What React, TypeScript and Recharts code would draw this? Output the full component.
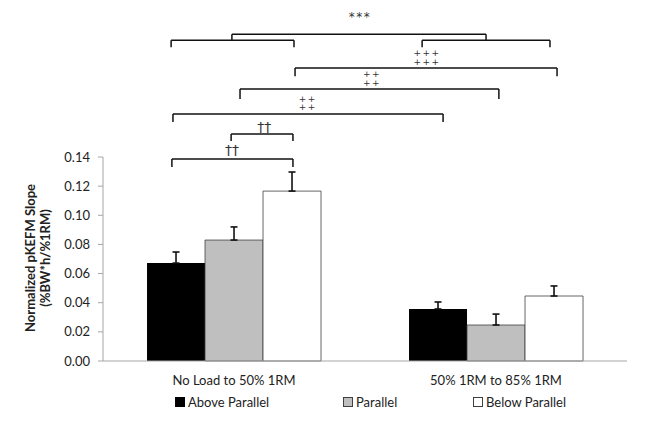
import {
  BarChart,
  Bar,
  XAxis,
  YAxis,
  ErrorBar,
  ReferenceLine,
  ReferenceDot,
  Legend,
} from "recharts";

const categories = ["No Load to 50% 1RM", "50% 1RM to 85% 1RM"];
const aboveParallel = [0.0672, 0.0357];
const parallel = [0.083, 0.0247];
const belowParallel = [0.1166, 0.0446];
const aboveErr = [0.0076, 0.0048];
const parallelErr = [0.009, 0.0075];
const belowErr = [0.0131, 0.0069];
const yTicks = [0, 0.02, 0.04, 0.06, 0.08, 0.1, 0.12, 0.14];
// category boundaries, as a fraction of the plot width
const boundaryTicks = [0, 0.5, 1];

// significance brackets: x as a fraction of the plot width, y in slope units
const brackets = [
  { x1: 0.13, x2: 0.3645, y: 0.2202, drop: 0.2154 },
  { x1: 0.609, x2: 0.853, y: 0.2202, drop: 0.2154 },
  { x1: 0.246, x2: 0.731, y: 0.2243, drop: 0.2202 },
  { x1: 0.3665, x2: 0.8665, y: 0.201, drop: 0.1955 },
  { x1: 0.2615, x2: 0.7555, y: 0.1866, drop: 0.1798 },
  { x1: 0.1335, x2: 0.649, y: 0.1695, drop: 0.164 },
  { x1: 0.2445, x2: 0.3625, y: 0.1558, drop: 0.151 },
  { x1: 0.1315, x2: 0.3625, y: 0.1386, drop: 0.1331 },
];

const marks = [
  { x: 0.4905, y: 0.236, text: "***", size: 12 },
  { x: 0.6185, y: 0.2116, text: "+++", size: 9 },
  { x: 0.6185, y: 0.2053, text: "+++", size: 9 },
  { x: 0.5135, y: 0.1972, text: "++", size: 9 },
  { x: 0.5135, y: 0.1909, text: "++", size: 9 },
  { x: 0.391, y: 0.1801, text: "++", size: 9 },
  { x: 0.391, y: 0.1745, text: "++", size: 9 },
  { x: 0.3075, y: 0.1606, text: "††", size: 14 },
  { x: 0.246, y: 0.1448, text: "††", size: 14 },
];

// outer chart-area frame, in the same units as the brackets
const frameLeft = -0.187;
const frameRight = 1.0305;
const frameBottom = -0.0494;
const frameTop = 0.2443;
const frameSides = [
  [frameLeft, frameTop, frameRight, frameTop],
  [frameLeft, frameBottom, frameRight, frameBottom],
  [frameLeft, frameBottom, frameLeft, frameTop],
  [frameRight, frameBottom, frameRight, frameTop],
];

const series = [
  { key: "above", name: "Above Parallel", fill: "#000000", stroke: "#000000" },
  { key: "parallel", name: "Parallel", fill: "#bfbfbf", stroke: "#404040" },
  { key: "below", name: "Below Parallel", fill: "#ffffff", stroke: "#404040" },
];

const legendLeft = [175, 343, 473];

const FONT = "Lato, 'Open Sans', sans-serif";

const data = categories.map((name, i) => ({
  name,
  above: aboveParallel[i],
  parallel: parallel[i],
  below: belowParallel[i],
  aboveErr: [0, aboveErr[i]],
  parallelErr: [0, parallelErr[i]],
  belowErr: [0, belowErr[i]],
}));

function LegendRow() {
  return (
    <div style={{ position: "relative", height: 18, fontFamily: FONT, fontSize: 13, color: "#222" }}>
      {series.map((s, i) => (
        <div
          key={s.key}
          style={{ position: "absolute", left: legendLeft[i], top: 0, display: "flex", alignItems: "center" }}
        >
          <span
            style={{
              display: "inline-block",
              width: 8,
              height: 8,
              background: s.fill,
              border: `1px solid ${s.stroke}`,
              marginRight: 3,
            }}
          />
          <span>{s.name}</span>
        </div>
      ))}
    </div>
  );
}

function AxisTitle() {
  return (
    <g fontFamily={FONT} fontSize={13} fontWeight="bold" fill="#222">
      <text x={30} y={258} transform="rotate(-90, 30, 258)" textAnchor="middle" dominantBaseline="central">
        Normalized pKEFM Slope
      </text>
      <text x={45} y={258} transform="rotate(-90, 45, 258)" textAnchor="middle" dominantBaseline="central">
        (%BW*h/%1RM)
      </text>
    </g>
  );
}

export default function App() {
  return (
    <div style={{ margin: -8, width: 649, height: 439, background: "#fff" }}>
      <BarChart
        width={649}
        height={439}
        data={data}
        margin={{ top: 157, right: 22, bottom: 48, left: 43 }}
        barCategoryGap="16.8%"
        barGap={0}
      >
        <XAxis
          xAxisId="pos"
          type="number"
          domain={[0, 1]}
          allowDataOverflow
          ticks={boundaryTicks}
          tickFormatter={() => ""}
          axisLine={false}
          tickLine={{ stroke: "#a6a6a6" }}
          tickSize={4}
          height={0}
        />
        <XAxis
          dataKey="name"
          axisLine={{ stroke: "#a6a6a6" }}
          tickLine={false}
          tickSize={6}
          tickMargin={9}
          height={30}
          tick={{ fontFamily: FONT, fontSize: 13, fill: "#222" }}
        />
        <YAxis
          domain={[0, 0.14]}
          ticks={yTicks}
          width={60}
          tickFormatter={(v: number) => v.toFixed(2)}
          axisLine={{ stroke: "#a6a6a6" }}
          tickLine={{ stroke: "#a6a6a6" }}
          tickSize={5}
          tickMargin={8}
          tick={{ fontFamily: FONT, fontSize: 13, fill: "#222" }}
          label={{ content: () => <AxisTitle /> }}
        />
        {frameSides.map((f, i) => (
          <ReferenceLine
            key={`f${i}`}
            xAxisId="pos"
            ifOverflow="visible"
            stroke="#8f8f8f"
            strokeWidth={2}
            segment={[
              { x: f[0], y: f[1] },
              { x: f[2], y: f[3] },
            ]}
          />
        ))}
        {series.map((s) => (
          <Bar
            key={s.key}
            dataKey={s.key}
            name={s.name}
            fill={s.fill}
            stroke={s.stroke}
            strokeWidth={s.key === "above" ? 0 : 0.8}
            isAnimationActive={false}
          >
            <ErrorBar dataKey={`${s.key}Err`} direction="y" width={3.5} stroke="#111" strokeWidth={1.6} />
          </Bar>
        ))}
        {brackets.flatMap((b, i) => [
          <ReferenceLine
            key={`h${i}`}
            xAxisId="pos"
            ifOverflow="visible"
            stroke="#111"
            strokeWidth={1.5}
            segment={[
              { x: b.x1, y: b.y },
              { x: b.x2, y: b.y },
            ]}
          />,
          <ReferenceLine
            key={`l${i}`}
            xAxisId="pos"
            ifOverflow="visible"
            stroke="#111"
            strokeWidth={1.5}
            segment={[
              { x: b.x1, y: b.y },
              { x: b.x1, y: b.drop },
            ]}
          />,
          <ReferenceLine
            key={`r${i}`}
            xAxisId="pos"
            ifOverflow="visible"
            stroke="#111"
            strokeWidth={1.5}
            segment={[
              { x: b.x2, y: b.y },
              { x: b.x2, y: b.drop },
            ]}
          />,
        ])}
        {marks.map((m, i) => (
          <ReferenceDot
            key={`m${i}`}
            xAxisId="pos"
            x={m.x}
            y={m.y}
            ifOverflow="visible"
            shape={(p: any) => (
              <text
                x={p.cx}
                y={p.cy}
                textAnchor="middle"
                dominantBaseline="central"
                fontFamily="'DejaVu Sans', sans-serif"
                fontSize={m.size}
                letterSpacing={m.text.startsWith("†") ? 0 : 1.5}
                fill="#333"
              >
                {m.text}
              </text>
            )}
          />
        ))}
        <Legend
          layout="vertical"
          align="center"
          verticalAlign="middle"
          wrapperStyle={{ left: 0, top: 394, width: 649, height: 18 }}
          content={() => <LegendRow />}
        />
      </BarChart>
    </div>
  );
}
